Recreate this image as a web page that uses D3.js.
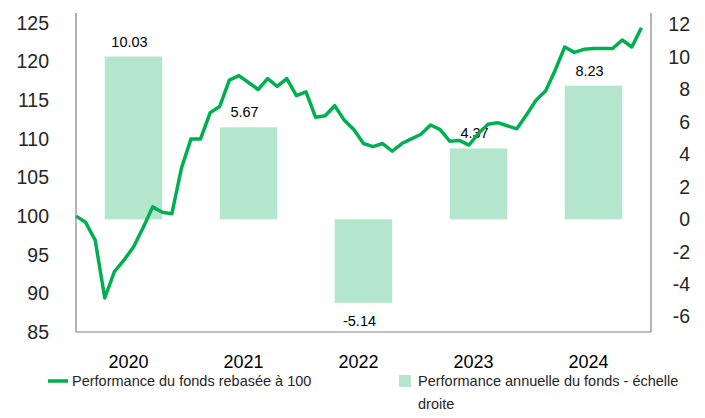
<!DOCTYPE html>
<html>
<head>
<meta charset="utf-8">
<script src="https://cdn.jsdelivr.net/npm/d3@7"></script>
<style>
  body { margin: 0; background: #fff; }
  text { font-family: "Liberation Sans", Arial, sans-serif; }
  .tick-text { font-size: 19.5px; fill: #262626; }
  .year-text { font-size: 18px; fill: #000; }
  .bar-label { font-size: 14.5px; fill: #000; }
  .legend-text { font-size: 14.5px; fill: #262626; }
</style>
</head>
<body>
<div id="chart"></div>
<script>
// data
const years = ["2020", "2021", "2022", "2023", "2024"];
const annualPerf = [10.03, 5.67, -5.14, 4.37, 8.23];
// monthly fund value rebased to 100 (start of 2020)
const fundValues = [
  100, 99.2, 96.9, 89.4, 92.8, 94.3, 96.0, 98.5, 101.2, 100.5, 100.3, 106.2,
  110.0, 110.0, 113.4, 114.2, 117.6, 118.2, 117.3, 116.4, 117.8, 116.8, 117.8, 115.6,
  116.1, 112.8, 113.0, 114.3, 112.4, 111.2, 109.4, 109.0, 109.4, 108.4, 109.4, 110.0,
  110.6, 111.8, 111.2, 109.7, 109.8, 109.2, 110.7, 111.9, 112.1, 111.7, 111.3, 113.1,
  115.0, 116.2, 118.9, 121.9, 121.2, 121.6, 121.7, 121.7, 121.7, 122.8, 121.9, 124.4
];
const leftTicks = [85, 90, 95, 100, 105, 110, 115, 120, 125];
const rightTicks = [-6, -4, -2, 0, 2, 4, 6, 8, 10, 12];
const lineLabel = "Performance du fonds rebasée à 100";
const barLabel = "Performance annuelle du fonds - échelle droite";

const initial_width = 705, initial_height = 418;
const margin = {top: 13, right: 54, bottom: 86, left: 76},
    width = initial_width - margin.left - margin.right,
    height = initial_height - margin.top - margin.bottom;

const lineColor = "#00b050";
const barColor = "#b3e6cc";
const axisColor = "#808080";

const svgRoot = d3.select("#chart")
  .append("svg")
    .attr("width", initial_width)
    .attr("height", initial_height);

const svg = svgRoot.append("g")
    .attr("transform", "translate(" + margin.left + "," + margin.top + ")");

// scales
const xBand = d3.scaleBand()
    .domain(years)
    .range([0, width])
    .paddingInner(0.5)
    .paddingOuter(0.25);

const xLine = d3.scaleLinear()
    .domain([0, 60])
    .range([0, width]);

const yLeft = d3.scaleLinear()
    .domain([85, 126.3])
    .range([height, 0]);

const yRight = d3.scaleLinear()
    .domain([-6.94, 12.71])
    .range([height, 0]);

// bars
svg.append("g")
  .selectAll("rect")
  .data(annualPerf)
  .enter()
  .append("rect")
    .attr("x", (d, i) => xBand(years[i]))
    .attr("width", xBand.bandwidth())
    .attr("y", d => yRight(Math.max(0, d)))
    .attr("height", d => Math.abs(yRight(d) - yRight(0)))
    .style("fill", barColor);

// bar labels
svg.append("g")
  .selectAll("text")
  .data(annualPerf)
  .enter()
  .append("text")
    .attr("class", "bar-label")
    .attr("text-anchor", "middle")
    .attr("x", (d, i) => xBand(years[i]) + xBand.bandwidth() / 2 - 4)
    .attr("y", d => d >= 0 ? yRight(d) - 10 : yRight(d) + 23)
    .text(d => d.toFixed(2));

// line
const line = d3.line()
    .x((d, i) => xLine(i))
    .y(d => yLeft(d));

svg.append("path")
    .datum(fundValues)
    .attr("d", line)
    .style("fill", "none")
    .style("stroke", lineColor)
    .style("stroke-width", 3.5)
    .style("stroke-linejoin", "round");

// left axis
const leftAxis = svg.append("g")
    .call(d3.axisLeft(yLeft).tickValues(leftTicks).tickSize(0).tickPadding(27));
leftAxis.select(".domain").remove();
leftAxis.selectAll("text").attr("class", "tick-text").attr("font-family", null).attr("font-size", null);

// right axis (plain hyphen for negatives, like the original)
const rightAxis = svg.append("g")
    .attr("transform", "translate(" + width + ",0)")
    .call(d3.axisRight(yRight).tickValues(rightTicks).tickSize(0).tickPadding(0)
        .tickFormat(d => String(d)));
rightAxis.select(".domain").remove();
rightAxis.selectAll("text")
    .attr("class", "tick-text")
    .attr("font-family", null).attr("font-size", null)
    .attr("text-anchor", "end")
    .attr("x", 39);

// bottom axis (years)
const bottomAxis = svg.append("g")
    .attr("transform", "translate(0," + height + ")")
    .call(d3.axisBottom(xBand).tickSize(0).tickPadding(0));
bottomAxis.select(".domain").remove();
bottomAxis.selectAll("text")
    .attr("class", "year-text")
    .attr("font-family", null).attr("font-size", null)
    .attr("dx", -5)
    .attr("dy", null)
    .attr("y", 36);

// frame lines
svg.append("line")
    .attr("x1", 0).attr("x2", 0).attr("y1", 0).attr("y2", height)
    .style("stroke", axisColor).style("stroke-width", 1.2);
svg.append("line")
    .attr("x1", width).attr("x2", width).attr("y1", 0).attr("y2", height)
    .style("stroke", axisColor).style("stroke-width", 1.2);
svg.append("line")
    .attr("x1", 0).attr("x2", width).attr("y1", height).attr("y2", height)
    .style("stroke", axisColor).style("stroke-width", 1.2);

// legend
const legend = svgRoot.append("g");
legend.append("line")
    .attr("x1", 48).attr("x2", 68).attr("y1", 381).attr("y2", 381)
    .style("stroke", lineColor).style("stroke-width", 3.5);
legend.append("text")
    .attr("class", "legend-text")
    .attr("x", 72).attr("y", 386)
    .text(lineLabel);

legend.append("rect")
    .attr("x", 399).attr("y", 375).attr("width", 12).attr("height", 12)
    .style("fill", barColor);
const barLegendText = legend.append("text")
    .attr("class", "legend-text")
    .attr("x", 418).attr("y", 386);

// wrap legend text like the original
const words = barLabel.split(" ");
const maxWidth = 270;
let tspan = barLegendText.append("tspan").attr("x", 418).attr("dy", 0);
let current = [];
words.forEach(w => {
  current.push(w);
  tspan.text(current.join(" "));
  if (tspan.node().getComputedTextLength() > maxWidth && current.length > 1) {
    current.pop();
    tspan.text(current.join(" "));
    current = [w];
    tspan = barLegendText.append("tspan").attr("x", 418).attr("dy", 23).text(w);
  }
});
</script>
</body>
</html>
